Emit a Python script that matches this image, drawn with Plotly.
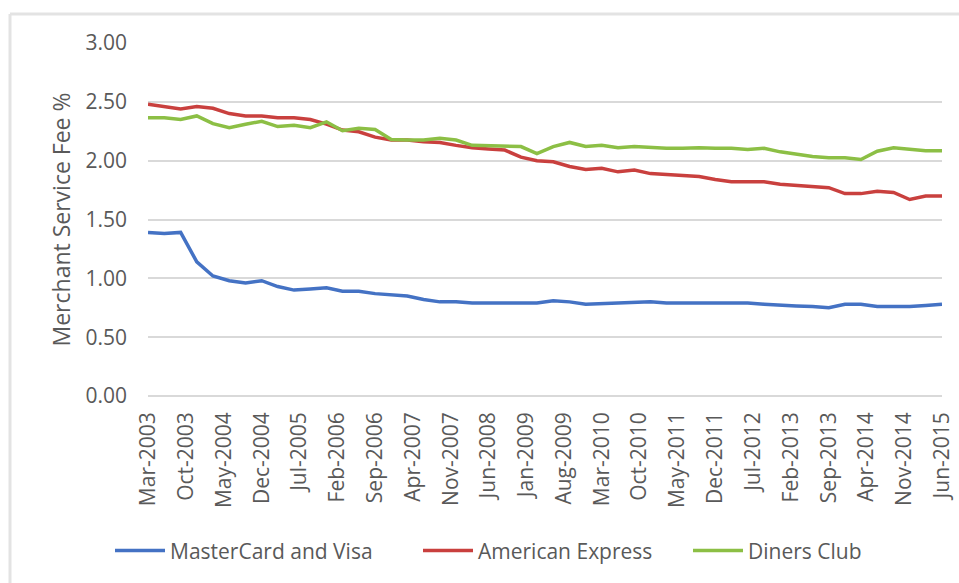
import plotly.graph_objects as go
import pandas as pd

# Quarterly observations, Mar-2003 .. Jun-2015
dates = pd.date_range("2003-03-01", "2015-06-01", freq="3MS")

mastercard_visa = [1.39, 1.38, 1.39, 1.14, 1.02, 0.98, 0.96, 0.98, 0.93, 0.90,
                   0.91, 0.92, 0.89, 0.89, 0.87, 0.86, 0.85, 0.82, 0.80, 0.80,
                   0.79, 0.79, 0.79, 0.79, 0.79, 0.81, 0.80, 0.78, 0.785, 0.79,
                   0.80, 0.80, 0.79, 0.79, 0.79, 0.79, 0.79, 0.79, 0.78, 0.77,
                   0.765, 0.76, 0.75, 0.78, 0.78, 0.76, 0.76, 0.76, 0.77, 0.78]

american_express = [2.48, 2.46, 2.44, 2.46, 2.445, 2.40, 2.38, 2.38, 2.365, 2.365,
                    2.35, 2.31, 2.26, 2.245, 2.20, 2.175, 2.175, 2.16, 2.155, 2.13,
                    2.11, 2.10, 2.09, 2.03, 2.00, 1.99, 1.95, 1.925, 1.935, 1.905,
                    1.92, 1.89, 1.88, 1.87, 1.865, 1.84, 1.82, 1.82, 1.82, 1.80,
                    1.79, 1.78, 1.77, 1.72, 1.72, 1.74, 1.73, 1.67, 1.70, 1.70]

diners_club = [2.365, 2.365, 2.35, 2.38, 2.315, 2.28, 2.31, 2.335, 2.29, 2.30,
               2.28, 2.33, 2.255, 2.275, 2.265, 2.18, 2.175, 2.175, 2.19, 2.175,
               2.13, 2.125, 2.12, 2.12, 2.06, 2.12, 2.155, 2.12, 2.13, 2.11,
               2.12, 2.11, 2.105, 2.105, 2.11, 2.105, 2.105, 2.095, 2.105, 2.075,
               2.055, 2.035, 2.025, 2.025, 2.01, 2.08, 2.11, 2.10, 2.085, 2.085]

series_names = ["MasterCard and Visa", "American Express", "Diners Club"]
series_colors = ["#4472C4", "#C9403E", "#8CBF45"]
series_values = [mastercard_visa, american_express, diners_club]

W, H = 959, 583
L, R, T, B = 148, 17, 43, 187
text_grey = "#595959"
font_family = "Open Sans"
fs = 21

legend_ids = ["legend", "legend2", "legend3"]
legend_x_px = [110, 418, 688]

fig = go.Figure()
for name, color, vals, lid in zip(series_names, series_colors, series_values, legend_ids):
    fig.add_trace(go.Scatter(x=dates, y=vals, mode="lines", name=name,
                             legend=lid,
                             line=dict(color=color, width=3.5)))

pw = W - L - R
ph = H - T - B
# light chart-area border (top and left edges only are visible)
border = dict(color="#E3E3E3", width=3)
fig.add_shape(type="line", xref="paper", yref="paper",
              x0=(10 - L) / pw, x1=(W + 5 - L) / pw,
              y0=(H - 14 - B) / ph, y1=(H - 14 - B) / ph,
              line=border, layer="below")
fig.add_shape(type="line", xref="paper", yref="paper",
              x0=(10 - L) / pw, x1=(10 - L) / pw,
              y0=(H - 14 - B) / ph, y1=(-5 - B) / ph,
              line=border, layer="below")

legend_common = dict(orientation="h", xref="container", yref="container",
                     xanchor="left", y=0.055, yanchor="middle",
                     font=dict(size=fs, color=text_grey),
                     bgcolor="rgba(0,0,0,0)", itemwidth=50)

layout_legends = {}
for lid, xp in zip(legend_ids, legend_x_px):
    layout_legends[lid] = dict(legend_common, x=xp / W)

fig.update_layout(
    width=W, height=H,
    margin=dict(l=L, r=R, t=T, b=B, autoexpand=False),
    paper_bgcolor="white", plot_bgcolor="white",
    font=dict(family=font_family, color=text_grey, size=fs),
    showlegend=True,
    **layout_legends,
    xaxis=dict(type="date", range=[dates[0], dates[-1]],
               tick0="2003-03-01", dtick="M7", tickformat="%b-%Y",
               tickangle=-90, showgrid=False, showline=False,
               ticks="", ticklabelstandoff=11,
               tickfont=dict(size=fs, color=text_grey)),
    yaxis=dict(range=[0, 3.0], dtick=0.5, tickformat=".2f",
               showgrid=True, gridcolor="#D9D9D9", gridwidth=1.5,
               zeroline=True, zerolinecolor="#D9D9D9", zerolinewidth=1.5,
               ticks="", ticklabelstandoff=20,
               title=dict(text="Merchant Service Fee %", standoff=8,
                          font=dict(size=23, color=text_grey)),
               tickfont=dict(size=fs, color=text_grey)),
)

fig.write_html("out.html")
